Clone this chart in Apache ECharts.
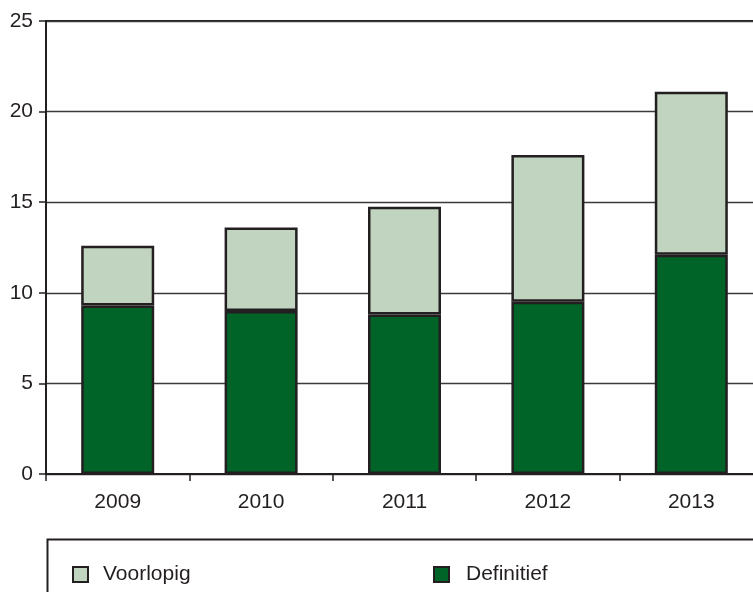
<!DOCTYPE html>
<html>
<head>
<meta charset="utf-8">
<script src="https://cdn.jsdelivr.net/npm/echarts@6/dist/echarts.min.js"></script>
<style>
  html, body { margin: 0; padding: 0; background: #fff; overflow: hidden; }
  /* the plot runs past the right edge of the window, as in the reference */
  #chart { width: 770px; height: 592px; }
</style>
</head>
<body>
<div id="chart"></div>
<script>
const years = ['2009', '2010', '2011', '2012', '2013'];
const definitief = [9.3, 9.0, 8.8, 9.5, 12.1];
const voorlopig = [3.3, 4.6, 5.95, 8.1, 9.0];
const yTicks = [0, 5, 10, 15, 20, 25];

const ink = '#231f20';
const font = '"Liberation Sans", Arial, Helvetica, sans-serif';

const chart = echarts.init(document.getElementById('chart'), null, { renderer: 'canvas' });

chart.setOption({
    animation: false,
    grid: {
        left: 46, top: 21, width: 717, height: 453,
        show: true, borderColor: ink, borderWidth: 2, backgroundColor: 'transparent'
    },
    legend: [
        {
            data: ['Voorlopig'], left: 67, top: 559,
            icon: 'rect', itemWidth: 15, itemHeight: 15,
            itemStyle: { borderColor: ink, borderWidth: 2 },
            textStyle: { fontFamily: font, fontSize: 21, color: ink, padding: [0, 0, 0, 10] }
        },
        {
            data: ['Definitief'], left: 428, top: 559,
            icon: 'rect', itemWidth: 15, itemHeight: 15,
            itemStyle: { borderColor: ink, borderWidth: 2 },
            textStyle: { fontFamily: font, fontSize: 21, color: ink, padding: [0, 0, 0, 12] }
        }
    ],
    graphic: [{
        type: 'rect', left: 45, top: 537,
        shape: { width: 760, height: 80 },
        style: { fill: 'none', stroke: ink, lineWidth: 2 }
    }],
    xAxis: {
        type: 'category', data: years,
        axisLine: { lineStyle: { color: ink, width: 2 } },
        axisTick: { show: true, length: 7, lineStyle: { color: ink, width: 1.5 } },
        axisLabel: { fontFamily: font, fontSize: 21, color: ink, margin: 18 }
    },
    yAxis: {
        type: 'value', min: 0, max: 25, interval: 5,
        axisLine: { show: true, lineStyle: { color: ink, width: 2 } },
        axisTick: { show: true, length: 7, lineStyle: { color: ink, width: 1.5 } },
        axisLabel: {
            fontFamily: font, fontSize: 21, color: ink, margin: 13,
            formatter: v => yTicks.includes(v) ? String(v) : ''
        },
        splitLine: { show: true, lineStyle: { color: '#3a3a3a', width: 1.3 } }
    },
    series: [
        {
            name: 'Definitief', type: 'bar', stack: 'total', data: definitief,
            barWidth: 73,
            itemStyle: { color: '#006428', borderColor: ink, borderWidth: 2.5 }
        },
        {
            name: 'Voorlopig', type: 'bar', stack: 'total', data: voorlopig,
            barWidth: 73,
            itemStyle: { color: '#c0d4c0', borderColor: ink, borderWidth: 2.5 }
        }
    ]
});
</script>
</body>
</html>
